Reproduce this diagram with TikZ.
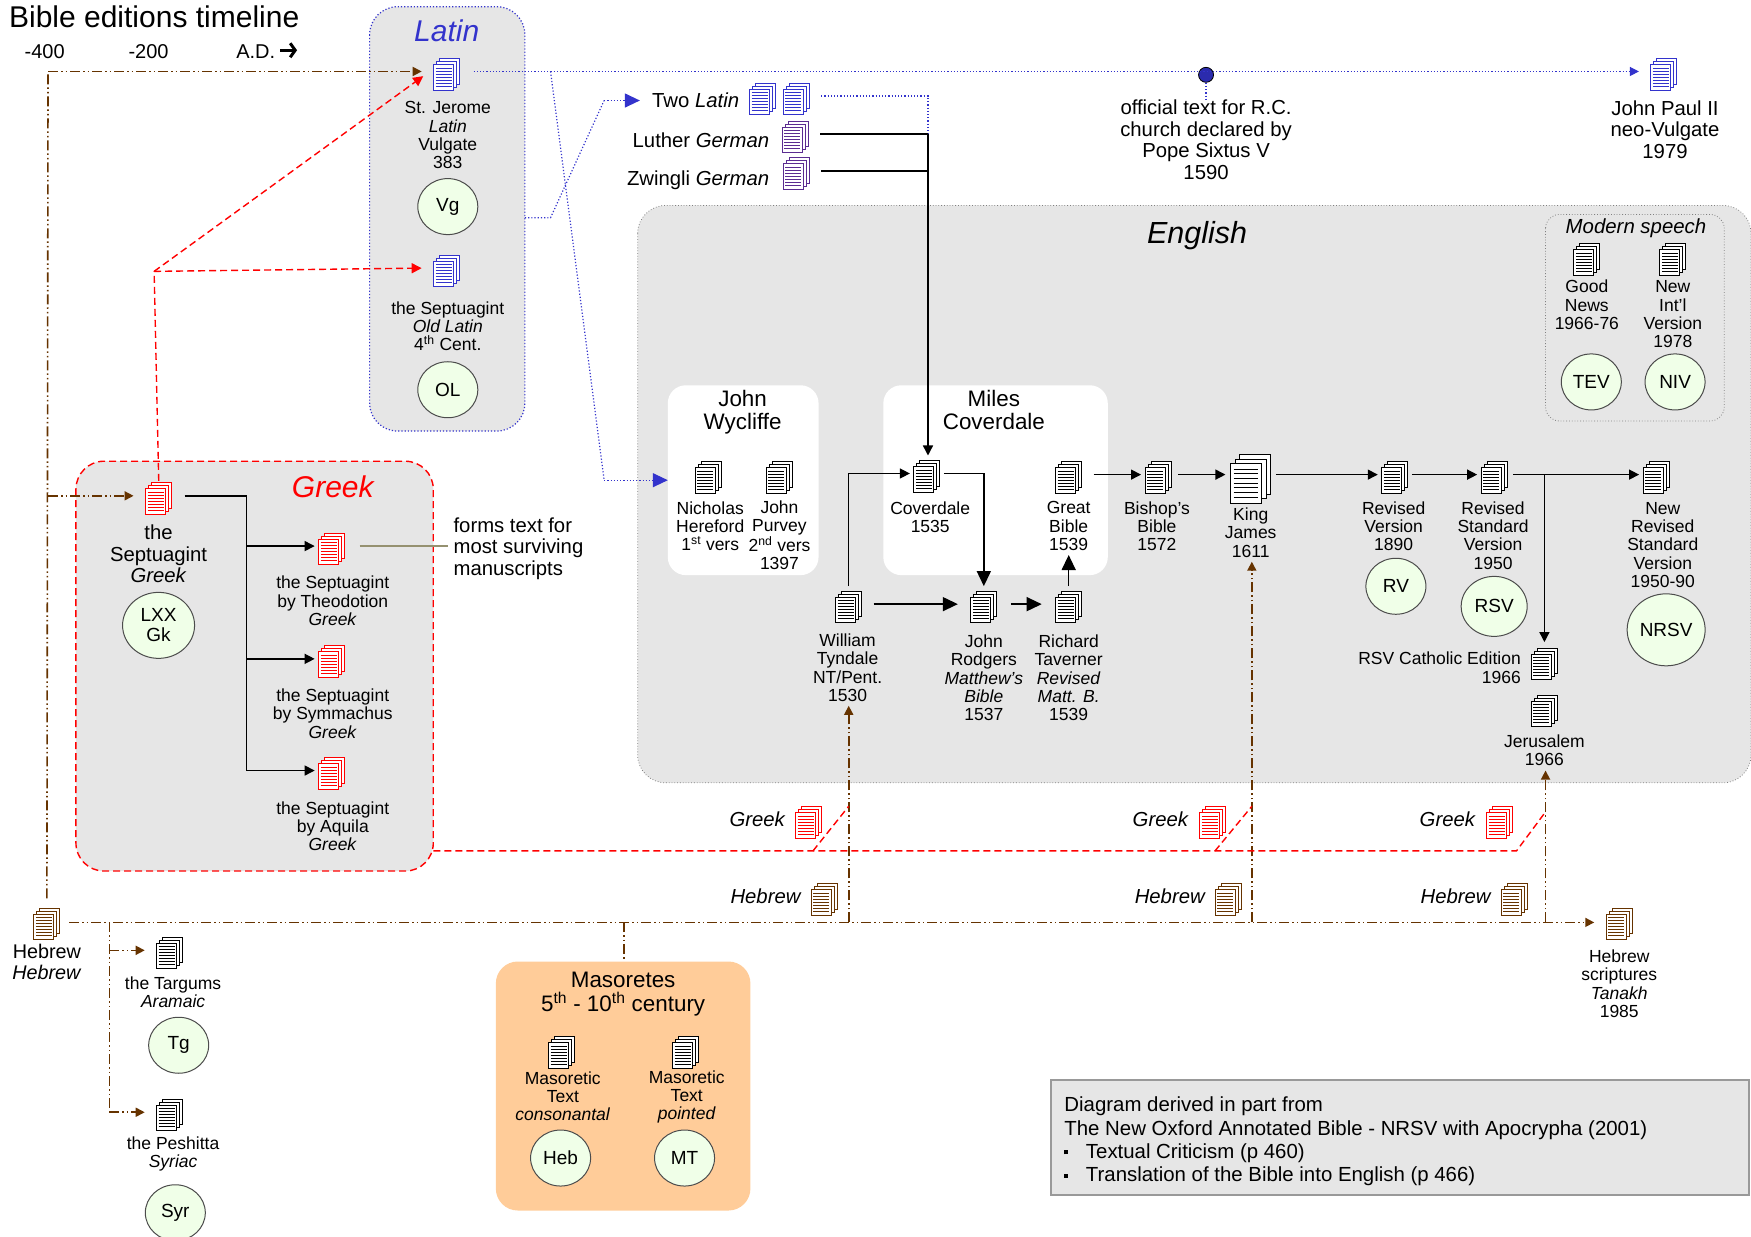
\documentclass[tikz,border=0pt]{standalone}
\usepackage{fontspec}
\setmainfont{Liberation Sans}
\usetikzlibrary{arrows.meta, shapes.geometric}
\definecolor{docblue}{HTML}{3333CC}
\definecolor{docpurple}{HTML}{5B2C91}
\definecolor{docbrown}{HTML}{663300}
\definecolor{boxgray}{HTML}{E6E6E6}
\definecolor{bubble}{HTML}{F0FFE8}
\definecolor{masorange}{HTML}{FFCC99}
\tikzset{
  docpic/.style 2 args={minimum width=30pt*#2, minimum height=42pt*#2, inner sep=0pt, outer sep=2pt,
    path picture={
      \begin{scope}[x=#2 pt, y=#2 pt]
      \foreach \dd in {6,3,0} {
        \filldraw[#1, fill=white, line width=.9pt] (-13+\dd,-18.5+\dd) rectangle (7+\dd,7+\dd);
      }
      \foreach \dd in {-14.5,-11.5,-8.5,-5.5,-2.5,0.5,3.5} {
        \draw[#1, line width=.9pt] (-11,\dd) -- (5,\dd);
      }
      \end{scope}
    }},
  doc/.style={docpic={#1}{1}},
  doc/.default=black,
  lbl/.style={align=center, font=\fontsize{17.5}{18.2}\selectfont, inner sep=0pt},
  lblbig/.style={align=center, font=\fontsize{20.3}{21.5}\selectfont, inner sep=0pt},
  lblhead/.style={align=center, font=\fontsize{22.4}{23.5}\selectfont, inner sep=0pt},
  lblyear/.style={align=center, font=\fontsize{20}{22}\selectfont, inner sep=0pt},
  lblside/.style={anchor=east, inner sep=0pt, font=\itshape\fontsize{20.3}{22}\selectfont},
  lbltitle/.style={inner sep=0pt, font=\itshape\fontsize{30}{32}\selectfont},
  bubblenode/.style={ellipse, align=center, draw=black!70, fill=bubble, line width=1pt, inner sep=0pt,
    minimum width=60pt, minimum height=56pt, font=\fontsize{19}{21}\selectfont},
  blackline/.style={draw=black, line width=1.4pt},
  blackarr/.style={blackline, shorten <=8pt, -{Triangle[length=10pt,width=10pt]}},
  bigarr/.style={blackline, shorten <=8pt, -{Triangle[length=15pt,width=14pt]}},
  brownline/.style={draw=docbrown, line width=1.6pt, dash pattern=on 10pt off 3pt on 1.5pt off 3pt on 1.5pt off 3pt},
  brownarr/.style={brownline, -{Triangle[length=9pt,width=9pt]}},
  redline/.style={draw=red, line width=1.4pt, dash pattern=on 7pt off 4pt},
  redarr/.style={redline, shorten >=8pt, -{Triangle[length=10pt,width=10pt]}},
  blueline/.style={draw=docblue, line width=1.2pt, dotted},
  bluearr/.style={blueline, -{Triangle[length=15pt,width=14pt]}},
  panel/.style={fill=boxgray, rounded corners=28pt}
}
\begin{document}
\begin{tikzpicture}[x=1.1167pt, y=-1.1167pt]
\useasboundingbox (0,0) rectangle (1568,1107);

\draw[panel, draw=docblue, line width=1.2pt, dotted] (331,6) rectangle (470,386);
\draw[panel, draw=gray, line width=.8pt, dotted] (571,184) rectangle (1568,701);
\draw[panel, draw=red, line width=1.4pt, dash pattern=on 7pt off 4pt] (68,413) rectangle (388,780);
\draw[draw=gray, dotted, line width=.8pt, rounded corners=14pt] (1384,192) rectangle (1544,377);
\fill[white, rounded corners=18pt] (598,345) rectangle (733,515);
\fill[white, rounded corners=18pt] (791,345) rectangle (992,515);
\fill[masorange, rounded corners=22pt] (444,861) rectangle (672,1084);
\filldraw[boxgray, draw=gray!80, line width=2.5pt] (941,967) rectangle (1566,1070);

\node[inner sep=0pt, font=\fontsize{30}{32}\selectfont, anchor=west] (title) at (8,15) {Bible editions timeline};
\node[lblyear] (y400) at (40,46) {-400};
\node[lblyear] (y200) at (133,46) {-200};
\node[lblyear] (ad) at (229,46) {A.D.};
\coordinate (ad1) at (251,45);
\coordinate (ad2) at (266,45);
\draw[line width=3pt, -{Straight Barb[length=5pt,width=14pt]}] (ad1) -- (ad2);

\node[lbltitle, text=docblue] (latin) at (400,28) {Latin};
\node[doc=docblue] (jerome) at (400,64) {};
\node[lbl] (jeromet) at (401,121) {St. Jerome\\\textit{Latin}\\Vulgate\\383};
\node[bubblenode] (vg) at (401,185) {Vg};
\node[doc=docblue] (oldlat) at (400,240) {};
\node[lbl] (oldlatt) at (401,292) {the Septuagint\\\textit{Old Latin}\\4\textsuperscript{th} Cent.};
\node[bubblenode] (ol) at (401,349) {OL};

\node[doc=docblue] (twolat1) at (683,86) {};
\node[doc=docblue] (twolat2) at (713,86) {};
\node[lblbig, anchor=east] (twolatt) at (662,90) {Two \textit{Latin}};
\node[doc=docpurple] (luther) at (712,120) {};
\node[lblbig, anchor=east] (luthert) at (689,126) {Luther \textit{German}};
\node[doc=docpurple] (zwingli) at (713,153) {};
\node[lblbig, anchor=east] (zwinglit) at (689,161) {Zwingli \textit{German}};
\node[doc=docblue] (jp2) at (1490,64) {};
\node[lblbig] (jp2t) at (1491,116) {John Paul II\\neo-Vulgate\\1979};
\node[circle, draw=black, fill=docblue!85!black, line width=.8pt, inner sep=0pt, minimum size=15pt] (sixtus) at (1080,67) {};
\node[lblbig] (sixtust) at (1080,125) {official text for R.C.\\church declared by\\Pope Sixtus V\\1590};

\node[lbltitle, font=\itshape\fontsize{30.5}{32}\selectfont] (english) at (1072,211) {English};
\node[lblhead] (wycliffe) at (665,369) {John\\Wycliffe};
\node[lblhead] (miles) at (890,367) {Miles\\Coverdale};
\node[doc] (hereford) at (634,425) {};
\node[lbl] (herefordt) at (636,471) {Nicholas\\Hereford\\1\textsuperscript{st} vers};
\node[doc] (purvey) at (698,425) {};
\node[lbl] (purveyt) at (698,479.5) {John\\Purvey\\2\textsuperscript{nd} vers\\1397};
\node[doc] (coverdale) at (830,424) {};
\node[lbl] (coverdalet) at (833,463) {Coverdale\\1535};
\node[doc] (great) at (957,425) {};
\node[lbl] (greatt) at (957,471) {Great\\Bible\\1539};
\node[doc] (bishop) at (1037,425) {};
\node[lbl] (bishopt) at (1036,471) {Bishop's\\Bible\\1572};
\node[docpic={black}{1.55}] (kj) at (1120,425) {};
\node[lbl] (kjt) at (1120,477) {King\\James\\1611};
\node[doc] (rv) at (1249,425) {};
\node[lbl] (rvt) at (1248,471) {Revised\\Version\\1890};
\node[bubblenode] (rvb) at (1250,525) {RV};
\node[doc] (rsv) at (1338,425) {};
\node[lbl] (rsvt) at (1337,479.5) {Revised\\Standard\\Version\\1950};
\node[bubblenode, minimum width=66pt, minimum height=60pt] (rsvb) at (1338,543) {RSV};
\node[doc] (nrsv) at (1483,425) {};
\node[lbl] (nrsvt) at (1489,488) {New\\Revised\\Standard\\Version\\1950-90};
\node[bubblenode, minimum width=78pt, minimum height=72pt] (nrsvb) at (1492,564) {NRSV};
\node[doc] (catholic) at (1383,592) {};
\node[lbl, align=right, anchor=east] (catholict) at (1362,598) {RSV Catholic Edition\\1966};
\node[doc] (jerusalem) at (1383,634) {};
\node[lbl] (jerusalemt) at (1383,672) {Jerusalem\\1966};

\node[inner sep=0pt, font=\itshape\fontsize{20.4}{22}\selectfont] (modern) at (1465,204) {Modern speech};
\node[doc] (goodnews) at (1421,230) {};
\node[lbl] (goodnewst) at (1421,273) {Good\\News\\1966-76};
\node[doc] (niv) at (1498,230) {};
\node[lbl] (nivt) at (1498,281.5) {New\\Int'l\\Version\\1978};
\node[bubblenode] (tevb) at (1425,342) {TEV};
\node[bubblenode] (nivb) at (1500,342) {NIV};

\node[doc] (tyndale) at (760,541) {};
\node[lbl] (tyndalet) at (759,598) {William\\Tyndale\\NT/Pent.\\1530};
\node[doc] (rodgers) at (881,541) {};
\node[lbl] (rodgerst) at (881,607) {John\\Rodgers\\\textit{Matthew's}\\\textit{Bible}\\1537};
\node[doc] (taverner) at (957,541) {};
\node[lbl] (tavernert) at (957,607) {Richard\\Taverner\\\textit{Revised}\\\textit{Matt. B.}\\1539};

\node[lbltitle, text=red] (greek) at (298,436) {Greek};
\node[doc=red] (lxx) at (142,444) {};
\node[lblbig] (lxxt) at (142,496) {the\\Septuagint\\\textit{Greek}};
\node[bubblenode, minimum width=72pt, minimum height=66pt] (lxxb) at (142,560) {LXX\\[-1pt]Gk};
\node[doc=red] (theod) at (297,489) {};
\node[lbl] (theodt) at (298,538) {the Septuagint\\by Theodotion\\\textit{Greek}};
\node[doc=red] (symm) at (297,590) {};
\node[lbl] (symmt) at (298,639) {the Septuagint\\by Symmachus\\\textit{Greek}};
\node[doc=red] (aquila) at (297,690) {};
\node[lbl] (aquilat) at (298,740) {the Septuagint\\by Aquila\\\textit{Greek}};
\node[lblbig, align=left, anchor=west] (forms) at (406,491) {forms text for\\most surviving\\manuscripts};

\node[doc=red] (gr1) at (724,734) {};
\node[lblside] (gr1t) at (703,734) {Greek};
\node[doc=red] (gr2) at (1086,734) {};
\node[lblside] (gr2t) at (1064,734) {Greek};
\node[doc=red] (gr3) at (1343,734) {};
\node[lblside] (gr3t) at (1321,734) {Greek};
\node[doc=docbrown] (he1) at (738,803) {};
\node[lblside] (he1t) at (717,803) {Hebrew};
\node[doc=docbrown] (he2) at (1100,803) {};
\node[lblside] (he2t) at (1079,803) {Hebrew};
\node[doc=docbrown] (he3) at (1356,803) {};
\node[lblside] (he3t) at (1335,803) {Hebrew};

\node[doc=docbrown] (hebrew) at (42,825) {};
\node[lblbig, font=\fontsize{19.8}{21}\selectfont] (hebrewt) at (42,861) {Hebrew\\\textit{Hebrew}};
\node[doc=docbrown] (tanakh) at (1450,825) {};
\node[lbl] (tanakht) at (1450,881) {Hebrew\\scriptures\\\textit{Tanakh}\\1985};
\node[doc] (targums) at (152,851) {};
\node[lbl] (targumst) at (155,888.5) {the Targums\\\textit{Aramaic}};
\node[bubblenode] (tg) at (160,936) {Tg};
\node[doc] (peshitta) at (152,996) {};
\node[lbl] (peshittat) at (155,1033) {the Peshitta\\\textit{Syriac}};
\node[bubblenode] (syr) at (157,1086) {Syr};

\node[lblhead] (masoretes) at (558,890) {Masoretes\\5\textsuperscript{th} - 10\textsuperscript{th} century};
\node[doc] (maso1) at (503,940) {};
\node[lbl] (maso1t) at (504,981.5) {Masoretic\\Text\\\textit{consonantal}};
\node[doc] (maso2) at (614,940) {};
\node[lbl] (maso2t) at (615,982.5) {Masoretic\\Text\\\textit{pointed}};
\node[bubblenode] (heb) at (502,1037) {Heb};
\node[bubblenode] (mt) at (613,1037) {MT};

\node[align=left, inner sep=0pt, anchor=north west, font=\fontsize{20.4}{23.4}\selectfont] (info) at (953,982) {Diagram derived in part from\\The New Oxford Annotated Bible - NRSV with Apocrypha (2001)\\\rule[.2em]{4pt}{4pt}\hspace{17.5pt}Textual Criticism (p 460)\\\rule[.2em]{4pt}{4pt}\hspace{17.5pt}Translation of the Bible into English (p 466)};

\coordinate (tlcorner) at (43,64);
\coordinate (tlgreek) at (43,444);
\coordinate (mainstart) at (62,826);
\coordinate (mainend) at (1428,826);
\coordinate (masobranch) at (559,826);
\coordinate (masotop) at (559,861);
\coordinate (syrbranch) at (98,826);
\coordinate (tgturn) at (98,851);
\coordinate (syrturn) at (98,996);
\coordinate (tynfoot) at (760,826);
\coordinate (kjfoot) at (1121,826);
\coordinate (jerfoot) at (1384,826);
\coordinate (tynhead) at (760,632);
\coordinate (kjhead) at (1121,503);
\coordinate (jerhead) at (1384,690);

\draw[brownline] (hebrew.north) -- (tlcorner);
\draw[brownarr, shorten >=8pt] (tlcorner) -- (jerome.west);
\draw[brownarr, shorten >=8pt] (tlgreek) -- (lxx.west);
\draw[brownarr, shorten >=8pt] (mainstart) -- (tanakh.west |- mainend);
\draw[brownline] (masobranch) -- (masotop);
\draw[brownline] (syrbranch) -- (syrturn);
\draw[brownarr, shorten >=8pt] (tgturn) -- (targums.west);
\draw[brownarr, shorten >=8pt] (syrturn) -- (peshitta.west);
\draw[brownarr] (tynfoot) -- (tynhead);
\draw[brownarr] (kjfoot) -- (kjhead);
\draw[brownarr] (jerfoot) -- (jerhead);

\coordinate (redturn) at (138,243);
\coordinate (redstart) at (388,762);
\coordinate (red1) at (728,762);
\coordinate (red2) at (1088,762);
\coordinate (red3) at (1358,762);
\coordinate (red1top) at (760,722);
\coordinate (red2top) at (1121,722);
\coordinate (red3top) at (1384,727);
\draw[redline, shorten <=-8pt] (lxx.north) -- (redturn);
\draw[redarr] (redturn) -- (oldlat.west);
\draw[redarr] (redturn) -- (jerome.west);
\draw[redline] (redstart) -- (red3) -- (red3top);
\draw[redline] (red1) -- (red1top);
\draw[redline] (red2) -- (red2top);

\coordinate (blue1) at (493,64);
\coordinate (blue2) at (541,430);
\coordinate (blue3) at (470,195);
\coordinate (blue4) at (493,195);
\coordinate (blue5) at (541,90);
\coordinate (wyc) at (598,430);
\coordinate (twolathd) at (573,90);
\coordinate (twoturn) at (831,86);
\coordinate (twoend) at (831,120);
\draw[blueline, shorten <=10pt, shorten >=8pt, -{Triangle[length=9pt,width=9pt]}] (jerome.east) -- (jp2.west);
\draw[blueline] (sixtus) -- (sixtust);
\draw[blueline] (blue1) -- (blue2);
\draw[bluearr] (blue2) -- (wyc);
\draw[blueline] (blue3) -- (blue4) -- (blue5);
\draw[bluearr] (blue5) -- (twolathd);
\draw[blueline, shorten <=8pt] (twolat2.east) -- (twoturn) -- (twoend);

\coordinate (lutherjoin) at (831,120);
\coordinate (zwinglijoin) at (831,153);
\draw[blackline, shorten <=8pt] (luther.east) -- (lutherjoin);
\draw[blackline, shorten <=8pt] (zwingli.east) -- (zwinglijoin);
\draw[blackarr, shorten <=0pt, shorten >=-5pt] (lutherjoin) -- (lutherjoin |- coverdale.north);
\draw[blackarr, shorten <=-5pt, shorten >=0pt] (tyndale.north) |- (coverdale.west);
\draw[bigarr, shorten <=0pt, shorten >=-5pt] (coverdale.east) -| (rodgers.north);
\draw[bigarr, shorten >=9pt] (tyndale.east) -- (rodgers.west);
\draw[bigarr, shorten <=10pt, shorten >=10pt] (rodgers.east) -- (taverner.west);
\coordinate (tavhead) at (957,497);
\draw[bigarr, shorten <=-5pt] (taverner.north) -- (tavhead);
\draw[blackarr, shorten <=8pt] (great.east) -- (bishop.west);
\draw[blackarr, shorten <=3pt] (bishop.east) -- (kj.west);
\draw[blackarr, shorten <=0pt] (kj.east) -- (rv.west);
\draw[blackarr, shorten <=0pt] (rv.east) -- (rsv.west);
\draw[blackarr, shorten <=2pt] (rsv.east) -- (nrsv.west);
\coordinate (rsvjoin) at (1383,425);
\draw[blackarr, shorten <=0pt, shorten >=-4pt] (rsvjoin) -- (catholic.north);

\coordinate (lxxjoin) at (221,444);
\coordinate (lxx2) at (221,489);
\coordinate (lxx3) at (221,590);
\coordinate (lxx4) at (221,690);
\coordinate (formsend) at (401,489);
\draw[blackline, shorten <=9pt] (lxx.east) -- (lxxjoin) -- (lxx4);
\draw[blackarr, shorten <=0pt] (lxx2) -- (theod.west);
\draw[blackarr, shorten <=0pt] (lxx3) -- (symm.west);
\draw[blackarr, shorten <=0pt] (lxx4) -- (aquila.west);
\draw[draw=black!60!olive!60, line width=1.5pt, shorten <=11pt] (theod.east) -- (formsend);
\end{tikzpicture}
\end{document}
